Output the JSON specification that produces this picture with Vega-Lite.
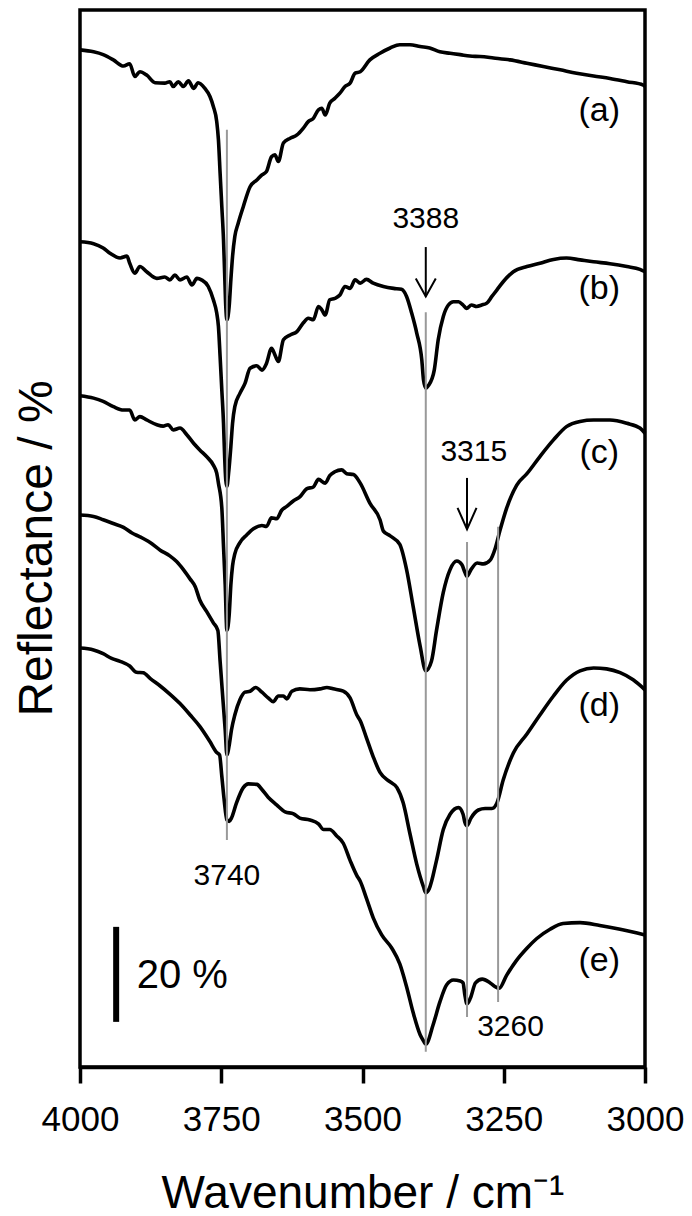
{
"$schema":"https://vega.github.io/schema/vega-lite/v6.json",
"autosize":{"type":"none"},
"padding":{"left":80,"top":10,"right":47,"bottom":149},
"width":565,"height":1057,
"background":"white",
"config":{"view":{"stroke":"black","strokeWidth":3.5},"text":{"font":"Liberation Sans","color":"black"}},
"datasets":{
"spectra":[
{"s":"a","w":4000,"r":214.1},{"s":"a","w":3976,"r":213.7},{"s":"a","w":3959,"r":213.1},{"s":"a","w":3941,"r":212.0},{"s":"a","w":3923,"r":210.7},{"s":"a","w":3912,"r":211.2},{"s":"a","w":3903,"r":208.5},{"s":"a","w":3894,"r":209.5},{"s":"a","w":3882,"r":208.8},{"s":"a","w":3867,"r":207.2},{"s":"a","w":3850,"r":207.1},{"s":"a","w":3841,"r":207.4},{"s":"a","w":3835,"r":206.4},{"s":"a","w":3826,"r":207.4},{"s":"a","w":3817,"r":206.4},{"s":"a","w":3808,"r":207.6},{"s":"a","w":3799,"r":206.0},{"s":"a","w":3791,"r":207.2},{"s":"a","w":3779,"r":206.0},{"s":"a","w":3770,"r":204.3},{"s":"a","w":3764,"r":202.2},{"s":"a","w":3758,"r":199.0},{"s":"a","w":3755,"r":195.2},{"s":"a","w":3752,"r":188.1},{"s":"a","w":3749,"r":181.1},{"s":"a","w":3746,"r":174.1},{"s":"a","w":3744,"r":167.1},{"s":"a","w":3742,"r":160.1},{"s":"a","w":3740,"r":157.3},{"s":"a","w":3736,"r":160.1},{"s":"a","w":3733,"r":165.7},{"s":"a","w":3730,"r":170.6},{"s":"a","w":3726,"r":174.8},{"s":"a","w":3720,"r":177.6},{"s":"a","w":3711,"r":181.1},{"s":"a","w":3699,"r":185.3},{"s":"a","w":3687,"r":186.7},{"s":"a","w":3678,"r":187.8},{"s":"a","w":3670,"r":188.5},{"s":"a","w":3661,"r":191.6},{"s":"a","w":3655,"r":192.0},{"s":"a","w":3649,"r":190.6},{"s":"a","w":3640,"r":194.5},{"s":"a","w":3628,"r":195.5},{"s":"a","w":3616,"r":196.2},{"s":"a","w":3605,"r":197.6},{"s":"a","w":3596,"r":199.0},{"s":"a","w":3587,"r":199.7},{"s":"a","w":3578,"r":201.5},{"s":"a","w":3572,"r":201.8},{"s":"a","w":3566,"r":200.4},{"s":"a","w":3558,"r":202.9},{"s":"a","w":3549,"r":203.9},{"s":"a","w":3540,"r":205.0},{"s":"a","w":3531,"r":206.4},{"s":"a","w":3522,"r":207.1},{"s":"a","w":3513,"r":209.2},{"s":"a","w":3504,"r":209.5},{"s":"a","w":3487,"r":212.0},{"s":"a","w":3469,"r":213.4},{"s":"a","w":3451,"r":214.5},{"s":"a","w":3434,"r":215.2},{"s":"a","w":3416,"r":215.2},{"s":"a","w":3398,"r":214.8},{"s":"a","w":3381,"r":214.5},{"s":"a","w":3363,"r":213.7},{"s":"a","w":3345,"r":213.4},{"s":"a","w":3327,"r":213.1},{"s":"a","w":3310,"r":212.8},{"s":"a","w":3292,"r":212.7},{"s":"a","w":3268,"r":212.4},{"s":"a","w":3239,"r":212.0},{"s":"a","w":3209,"r":211.3},{"s":"a","w":3180,"r":210.6},{"s":"a","w":3150,"r":209.9},{"s":"a","w":3121,"r":209.2},{"s":"a","w":3091,"r":208.6},{"s":"a","w":3062,"r":208.1},{"s":"a","w":3032,"r":207.4},{"s":"a","w":3003,"r":206.7},{"s":"a","w":3000,"r":206.4},
{"s":"b","w":4000,"r":173.7},{"s":"b","w":3976,"r":173.3},{"s":"b","w":3959,"r":172.4},{"s":"b","w":3947,"r":171.3},{"s":"b","w":3929,"r":170.3},{"s":"b","w":3917,"r":170.7},{"s":"b","w":3912,"r":169.2},{"s":"b","w":3903,"r":167.1},{"s":"b","w":3894,"r":168.5},{"s":"b","w":3882,"r":167.4},{"s":"b","w":3864,"r":166.0},{"s":"b","w":3850,"r":166.3},{"s":"b","w":3841,"r":165.7},{"s":"b","w":3832,"r":166.7},{"s":"b","w":3823,"r":165.7},{"s":"b","w":3811,"r":166.3},{"s":"b","w":3802,"r":164.6},{"s":"b","w":3793,"r":166.0},{"s":"b","w":3785,"r":165.7},{"s":"b","w":3773,"r":164.3},{"s":"b","w":3764,"r":161.5},{"s":"b","w":3758,"r":158.7},{"s":"b","w":3755,"r":155.9},{"s":"b","w":3752,"r":149.5},{"s":"b","w":3749,"r":142.5},{"s":"b","w":3746,"r":135.5},{"s":"b","w":3744,"r":128.5},{"s":"b","w":3742,"r":123.6},{"s":"b","w":3740,"r":122.2},{"s":"b","w":3737,"r":125.0},{"s":"b","w":3733,"r":130.6},{"s":"b","w":3730,"r":135.5},{"s":"b","w":3726,"r":139.0},{"s":"b","w":3717,"r":141.8},{"s":"b","w":3708,"r":143.9},{"s":"b","w":3699,"r":147.1},{"s":"b","w":3687,"r":147.6},{"s":"b","w":3678,"r":146.7},{"s":"b","w":3670,"r":148.1},{"s":"b","w":3661,"r":151.3},{"s":"b","w":3655,"r":149.9},{"s":"b","w":3649,"r":148.5},{"s":"b","w":3640,"r":153.1},{"s":"b","w":3628,"r":154.1},{"s":"b","w":3616,"r":154.8},{"s":"b","w":3605,"r":156.6},{"s":"b","w":3596,"r":157.6},{"s":"b","w":3587,"r":157.3},{"s":"b","w":3578,"r":160.1},{"s":"b","w":3572,"r":159.4},{"s":"b","w":3566,"r":158.3},{"s":"b","w":3558,"r":161.5},{"s":"b","w":3549,"r":161.8},{"s":"b","w":3540,"r":162.5},{"s":"b","w":3531,"r":164.3},{"s":"b","w":3522,"r":163.9},{"s":"b","w":3513,"r":165.7},{"s":"b","w":3504,"r":165.0},{"s":"b","w":3493,"r":165.8},{"s":"b","w":3481,"r":165.0},{"s":"b","w":3463,"r":164.3},{"s":"b","w":3445,"r":163.9},{"s":"b","w":3431,"r":163.7},{"s":"b","w":3422,"r":162.2},{"s":"b","w":3413,"r":158.7},{"s":"b","w":3404,"r":154.5},{"s":"b","w":3395,"r":148.8},{"s":"b","w":3392,"r":144.6},{"s":"b","w":3388,"r":142.9},{"s":"b","w":3383,"r":143.5},{"s":"b","w":3373,"r":146.7},{"s":"b","w":3366,"r":153.1},{"s":"b","w":3357,"r":158.0},{"s":"b","w":3348,"r":160.4},{"s":"b","w":3339,"r":161.1},{"s":"b","w":3330,"r":161.1},{"s":"b","w":3322,"r":160.4},{"s":"b","w":3316,"r":159.7},{"s":"b","w":3307,"r":160.4},{"s":"b","w":3298,"r":160.1},{"s":"b","w":3289,"r":160.4},{"s":"b","w":3280,"r":160.8},{"s":"b","w":3271,"r":162.2},{"s":"b","w":3262,"r":163.6},{"s":"b","w":3251,"r":165.3},{"s":"b","w":3233,"r":167.4},{"s":"b","w":3209,"r":168.5},{"s":"b","w":3186,"r":169.2},{"s":"b","w":3162,"r":170.0},{"s":"b","w":3139,"r":170.3},{"s":"b","w":3115,"r":169.9},{"s":"b","w":3091,"r":169.5},{"s":"b","w":3062,"r":169.1},{"s":"b","w":3032,"r":168.5},{"s":"b","w":3009,"r":167.9},{"s":"b","w":3000,"r":167.4},
{"s":"c","w":4000,"r":141.3},{"s":"c","w":3976,"r":140.8},{"s":"c","w":3959,"r":140.1},{"s":"c","w":3941,"r":139.0},{"s":"c","w":3923,"r":138.3},{"s":"c","w":3912,"r":138.3},{"s":"c","w":3903,"r":136.2},{"s":"c","w":3894,"r":136.9},{"s":"c","w":3882,"r":136.2},{"s":"c","w":3864,"r":135.2},{"s":"c","w":3853,"r":134.9},{"s":"c","w":3844,"r":135.2},{"s":"c","w":3835,"r":134.1},{"s":"c","w":3823,"r":134.5},{"s":"c","w":3811,"r":133.1},{"s":"c","w":3799,"r":131.3},{"s":"c","w":3788,"r":129.9},{"s":"c","w":3776,"r":128.5},{"s":"c","w":3764,"r":126.7},{"s":"c","w":3758,"r":125.0},{"s":"c","w":3755,"r":122.9},{"s":"c","w":3749,"r":117.7},{"s":"c","w":3746,"r":109.6},{"s":"c","w":3743,"r":101.5},{"s":"c","w":3740,"r":91.9},{"s":"c","w":3736,"r":95.1},{"s":"c","w":3733,"r":101.5},{"s":"c","w":3730,"r":105.5},{"s":"c","w":3726,"r":108.0},{"s":"c","w":3717,"r":110.4},{"s":"c","w":3705,"r":112.0},{"s":"c","w":3693,"r":113.3},{"s":"c","w":3678,"r":114.0},{"s":"c","w":3670,"r":113.8},{"s":"c","w":3661,"r":115.6},{"s":"c","w":3652,"r":115.4},{"s":"c","w":3643,"r":117.2},{"s":"c","w":3634,"r":118.0},{"s":"c","w":3622,"r":119.2},{"s":"c","w":3611,"r":120.0},{"s":"c","w":3599,"r":121.7},{"s":"c","w":3587,"r":122.1},{"s":"c","w":3578,"r":123.7},{"s":"c","w":3566,"r":122.9},{"s":"c","w":3558,"r":124.5},{"s":"c","w":3549,"r":125.3},{"s":"c","w":3537,"r":125.7},{"s":"c","w":3528,"r":124.9},{"s":"c","w":3516,"r":124.7},{"s":"c","w":3504,"r":122.9},{"s":"c","w":3487,"r":118.7},{"s":"c","w":3469,"r":115.2},{"s":"c","w":3463,"r":112.8},{"s":"c","w":3451,"r":111.8},{"s":"c","w":3434,"r":110.0},{"s":"c","w":3422,"r":104.7},{"s":"c","w":3410,"r":96.7},{"s":"c","w":3398,"r":88.6},{"s":"c","w":3388,"r":83.4},{"s":"c","w":3378,"r":85.4},{"s":"c","w":3369,"r":91.9},{"s":"c","w":3357,"r":99.9},{"s":"c","w":3345,"r":104.7},{"s":"c","w":3333,"r":106.5},{"s":"c","w":3324,"r":105.7},{"s":"c","w":3319,"r":104.2},{"s":"c","w":3315,"r":103.3},{"s":"c","w":3308,"r":104.7},{"s":"c","w":3297,"r":106.1},{"s":"c","w":3286,"r":105.9},{"s":"c","w":3274,"r":106.7},{"s":"c","w":3265,"r":109.2},{"s":"c","w":3257,"r":112.8},{"s":"c","w":3245,"r":117.6},{"s":"c","w":3227,"r":122.5},{"s":"c","w":3209,"r":124.9},{"s":"c","w":3186,"r":128.5},{"s":"c","w":3162,"r":132.0},{"s":"c","w":3139,"r":134.8},{"s":"c","w":3115,"r":135.9},{"s":"c","w":3091,"r":136.2},{"s":"c","w":3062,"r":136.2},{"s":"c","w":3032,"r":135.5},{"s":"c","w":3009,"r":134.5},{"s":"c","w":3000,"r":133.4},
{"s":"d","w":4000,"r":116.2},{"s":"d","w":3976,"r":115.9},{"s":"d","w":3959,"r":115.2},{"s":"d","w":3941,"r":114.4},{"s":"d","w":3923,"r":113.6},{"s":"d","w":3908,"r":112.4},{"s":"d","w":3894,"r":111.6},{"s":"d","w":3876,"r":110.4},{"s":"d","w":3858,"r":108.8},{"s":"d","w":3841,"r":107.6},{"s":"d","w":3829,"r":106.4},{"s":"d","w":3817,"r":104.7},{"s":"d","w":3805,"r":102.7},{"s":"d","w":3796,"r":101.1},{"s":"d","w":3788,"r":98.3},{"s":"d","w":3776,"r":95.9},{"s":"d","w":3764,"r":93.5},{"s":"d","w":3756,"r":91.9},{"s":"d","w":3752,"r":85.4},{"s":"d","w":3747,"r":77.3},{"s":"d","w":3743,"r":70.9},{"s":"d","w":3740,"r":65.7},{"s":"d","w":3736,"r":67.7},{"s":"d","w":3732,"r":70.9},{"s":"d","w":3726,"r":74.1},{"s":"d","w":3717,"r":77.3},{"s":"d","w":3708,"r":78.9},{"s":"d","w":3699,"r":79.1},{"s":"d","w":3689,"r":79.9},{"s":"d","w":3678,"r":78.9},{"s":"d","w":3667,"r":77.7},{"s":"d","w":3658,"r":76.9},{"s":"d","w":3649,"r":78.1},{"s":"d","w":3640,"r":78.1},{"s":"d","w":3634,"r":77.5},{"s":"d","w":3625,"r":79.1},{"s":"d","w":3611,"r":79.6},{"s":"d","w":3593,"r":79.4},{"s":"d","w":3575,"r":79.6},{"s":"d","w":3563,"r":79.9},{"s":"d","w":3552,"r":79.6},{"s":"d","w":3534,"r":79.1},{"s":"d","w":3522,"r":77.7},{"s":"d","w":3510,"r":74.1},{"s":"d","w":3504,"r":72.9},{"s":"d","w":3493,"r":69.3},{"s":"d","w":3481,"r":65.3},{"s":"d","w":3469,"r":62.0},{"s":"d","w":3451,"r":60.0},{"s":"d","w":3439,"r":58.8},{"s":"d","w":3428,"r":55.6},{"s":"d","w":3416,"r":49.1},{"s":"d","w":3404,"r":42.7},{"s":"d","w":3392,"r":37.9},{"s":"d","w":3388,"r":36.7},{"s":"d","w":3382,"r":37.5},{"s":"d","w":3369,"r":43.5},{"s":"d","w":3357,"r":50.0},{"s":"d","w":3345,"r":53.2},{"s":"d","w":3330,"r":54.6},{"s":"d","w":3322,"r":53.2},{"s":"d","w":3319,"r":51.6},{"s":"d","w":3315,"r":50.8},{"s":"d","w":3308,"r":52.4},{"s":"d","w":3295,"r":54.1},{"s":"d","w":3283,"r":54.4},{"s":"d","w":3271,"r":54.4},{"s":"d","w":3262,"r":55.6},{"s":"d","w":3251,"r":60.4},{"s":"d","w":3233,"r":66.1},{"s":"d","w":3209,"r":70.1},{"s":"d","w":3186,"r":74.1},{"s":"d","w":3162,"r":78.1},{"s":"d","w":3139,"r":81.4},{"s":"d","w":3115,"r":83.4},{"s":"d","w":3091,"r":84.0},{"s":"d","w":3068,"r":83.8},{"s":"d","w":3044,"r":83.0},{"s":"d","w":3021,"r":81.5},{"s":"d","w":3000,"r":79.4},
{"s":"e","w":4000,"r":88.2},{"s":"e","w":3976,"r":87.8},{"s":"e","w":3959,"r":87.0},{"s":"e","w":3944,"r":86.0},{"s":"e","w":3929,"r":85.4},{"s":"e","w":3912,"r":84.4},{"s":"e","w":3900,"r":83.1},{"s":"e","w":3888,"r":83.0},{"s":"e","w":3876,"r":81.8},{"s":"e","w":3858,"r":80.2},{"s":"e","w":3841,"r":78.5},{"s":"e","w":3823,"r":76.5},{"s":"e","w":3805,"r":74.1},{"s":"e","w":3788,"r":71.7},{"s":"e","w":3770,"r":68.5},{"s":"e","w":3758,"r":66.2},{"s":"e","w":3753,"r":65.7},{"s":"e","w":3749,"r":61.2},{"s":"e","w":3745,"r":56.4},{"s":"e","w":3740,"r":52.0},{"s":"e","w":3736,"r":51.7},{"s":"e","w":3732,"r":52.4},{"s":"e","w":3723,"r":55.6},{"s":"e","w":3711,"r":58.8},{"s":"e","w":3702,"r":59.6},{"s":"e","w":3687,"r":59.5},{"s":"e","w":3678,"r":58.4},{"s":"e","w":3667,"r":56.8},{"s":"e","w":3652,"r":55.2},{"s":"e","w":3637,"r":53.7},{"s":"e","w":3622,"r":53.3},{"s":"e","w":3611,"r":52.4},{"s":"e","w":3593,"r":52.0},{"s":"e","w":3578,"r":51.2},{"s":"e","w":3569,"r":50.0},{"s":"e","w":3558,"r":50.0},{"s":"e","w":3546,"r":48.7},{"s":"e","w":3534,"r":47.1},{"s":"e","w":3522,"r":43.5},{"s":"e","w":3510,"r":40.3},{"s":"e","w":3504,"r":39.1},{"s":"e","w":3493,"r":35.5},{"s":"e","w":3481,"r":31.4},{"s":"e","w":3466,"r":27.8},{"s":"e","w":3448,"r":25.0},{"s":"e","w":3434,"r":21.7},{"s":"e","w":3422,"r":16.9},{"s":"e","w":3410,"r":11.3},{"s":"e","w":3398,"r":6.8},{"s":"e","w":3392,"r":5.5},{"s":"e","w":3388,"r":4.8},{"s":"e","w":3375,"r":8.9},{"s":"e","w":3363,"r":13.7},{"s":"e","w":3351,"r":17.3},{"s":"e","w":3339,"r":18.3},{"s":"e","w":3327,"r":18.1},{"s":"e","w":3322,"r":17.7},{"s":"e","w":3319,"r":15.3},{"s":"e","w":3315,"r":13.3},{"s":"e","w":3309,"r":14.5},{"s":"e","w":3300,"r":17.7},{"s":"e","w":3288,"r":18.5},{"s":"e","w":3274,"r":17.7},{"s":"e","w":3265,"r":16.9},{"s":"e","w":3258,"r":16.6},{"s":"e","w":3245,"r":19.3},{"s":"e","w":3227,"r":22.5},{"s":"e","w":3209,"r":25.0},{"s":"e","w":3192,"r":27.0},{"s":"e","w":3168,"r":29.0},{"s":"e","w":3145,"r":30.2},{"s":"e","w":3115,"r":30.4},{"s":"e","w":3080,"r":29.8},{"s":"e","w":3044,"r":29.0},{"s":"e","w":3000,"r":27.8}
],
"guides":[{"w":3740,"r":197.3,"r2":47.8},{"w":3388,"r":158.9,"r2":3.2},{"w":3315,"r":110.5,"r2":10.5},{"w":3260,"r":113.7,"r2":13.7}],
"shafts":[{"w":3388,"r":172.6,"r2":162.2},{"w":3315,"r":124.0,"r2":113.2}],
"heads":[{"id":"3388","w":3405.7,"r":166.0},{"id":"3388","w":3388,"r":162.2},{"id":"3388","w":3370.3,"r":166.0},{"id":"3315","w":3331.8,"r":117.7},{"id":"3315","w":3315,"r":113.2},{"id":"3315","w":3298.2,"r":117.7}],
"labels":[{"t":"(a)","w":3081,"r":201.3},{"t":"(b)","w":3081,"r":163.8},{"t":"(c)","w":3081,"r":129.3},{"t":"(d)","w":3081,"r":75.9},{"t":"(e)","w":3081,"r":22.4}],
"peaks":[{"t":"3388","w":3388,"r":178.5},{"t":"3315","w":3303,"r":129.4},{"t":"3740","w":3740,"r":40.3},{"t":"3260","w":3238,"r":8.5}],
"scalebar":[{"w":3936,"r":29.5,"r2":9.5,"t":"20 %","wt":3819,"rt":19.2}]
},
"layer":[
{"data":{"name":"spectra"},"mark":{"type":"line","color":"black","strokeWidth":3.6,"strokeJoin":"round","interpolate":"monotone"},
 "encoding":{
  "x":{"field":"w","type":"quantitative","scale":{"domain":[3000,4000],"reverse":true,"nice":false,"zero":false},
   "axis":{"values":[4000,3750,3500,3250,3000],"format":"d","title":"Wavenumber / cm⁻¹","grid":false,"tickSize":16,"tickWidth":3.5,"tickColor":"black","domainColor":"black","domainWidth":3.5,"labelFontSize":35,"labelFont":"Liberation Sans","labelColor":"black","labelPadding":19,"labelFlush":false,"labelOverlap":false,"titleFont":"Liberation Sans","titleFontSize":46,"titleFontWeight":"normal","titleColor":"black","titleBaseline":"alphabetic","titleY":140}},
  "y":{"field":"r","type":"quantitative","scale":{"domain":[0,222.5],"nice":false,"zero":false},
   "axis":{"title":"Reflectance / %","labels":false,"ticks":false,"domain":false,"grid":false,"titleFont":"Liberation Sans","titleFontSize":48,"titleFontWeight":"normal","titleColor":"black","titleBaseline":"alphabetic","titleX":-29,"titleY":538}},
  "detail":{"field":"s","type":"nominal"}}},
{"data":{"name":"guides"},"mark":{"type":"rule","color":"#999999","strokeWidth":2},
 "encoding":{"x":{"field":"w","type":"quantitative"},"y":{"field":"r","type":"quantitative"},"y2":{"field":"r2"}}},
{"data":{"name":"shafts"},"mark":{"type":"rule","color":"black","strokeWidth":2},
 "encoding":{"x":{"field":"w","type":"quantitative"},"y":{"field":"r","type":"quantitative"},"y2":{"field":"r2"}}},
{"data":{"name":"heads"},"mark":{"type":"line","color":"black","strokeWidth":2},
 "encoding":{"x":{"field":"w","type":"quantitative"},"y":{"field":"r","type":"quantitative"},"detail":{"field":"id","type":"nominal"}}},
{"data":{"name":"labels"},"mark":{"type":"text","fontSize":34,"align":"center","baseline":"middle","font":"Liberation Sans","color":"black"},
 "encoding":{"x":{"field":"w","type":"quantitative"},"y":{"field":"r","type":"quantitative"},"text":{"field":"t"}}},
{"data":{"name":"peaks"},"mark":{"type":"text","fontSize":30,"align":"center","baseline":"middle","font":"Liberation Sans","color":"black"},
 "encoding":{"x":{"field":"w","type":"quantitative"},"y":{"field":"r","type":"quantitative"},"text":{"field":"t"}}},
{"data":{"name":"scalebar"},"mark":{"type":"rule","color":"black","strokeWidth":6},
 "encoding":{"x":{"field":"w","type":"quantitative"},"y":{"field":"r","type":"quantitative"},"y2":{"field":"r2"}}},
{"data":{"name":"scalebar"},"mark":{"type":"text","fontSize":40,"align":"center","baseline":"middle","font":"Liberation Sans","color":"black"},
 "encoding":{"x":{"field":"wt","type":"quantitative"},"y":{"field":"rt","type":"quantitative"},"text":{"field":"t"}}}
]
}
